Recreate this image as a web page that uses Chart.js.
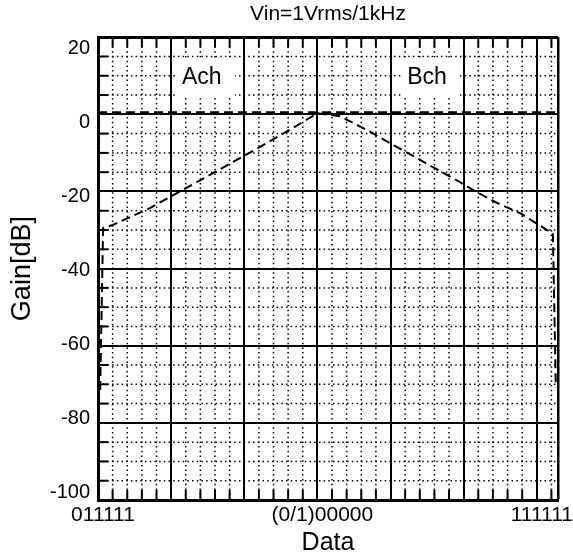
<!DOCTYPE html>
<html>
<head>
<meta charset="utf-8">
<script src="https://cdn.jsdelivr.net/npm/chart.js@4"></script>
<style>
  html, body { margin: 0; padding: 0; background: #fff; }
  #wrap { width: 573px; height: 558px; position: relative; }
</style>
</head>
<body>
<div id="wrap"><canvas id="gainChart"></canvas></div>
<script>
// --- data ---
const achX = [0.03, 0.07, 0.2, 0.71, 1.35, 2.21, 2.66, 3.0];
const achY = [-71.5, -29.5, -28.7, -24.3, -17.6, -8.5, -3.6, 0.3];
const bchX = [3.0, 3.31, 3.68, 4.09, 4.95, 5.18, 5.49, 5.77, 6.14, 6.22, 6.26];
const bchY = [0.3, -0.5, -4.1, -8.5, -17.6, -20.2, -23.3, -25.6, -30, -30.8, -70.8];
const refX = [0, 6.29];
const refY = [0.5, 0.5];

const xMajor = [0, 1, 2, 3, 4, 5, 6];
const xTickVals = [0, 3, 6];
const xTickText = ['011111', '(0/1)00000', '111111'];
const yMajor = [20, 0, -20, -40, -60, -80, -100];

const chLabels = ['Ach', 'Bch'];
const chLabelX = [1.42, 4.5];
const chLabelY = [9.5, 9.5];

const X_MAX = 6.29;
const FONT = '"Liberation Sans", Arial, sans-serif';

Chart.defaults.font.family = FONT;
Chart.defaults.color = '#000';

const toPoints = (xs, ys) => xs.map((x, i) => ({ x, y: ys[i] }));

// dotted minor grid, inner tick marks and the channel labels
const gridExtras = {
  id: 'gridExtras',
  beforeDatasetsDraw(chart) {
    const { ctx, chartArea: a, scales: { x, y } } = chart;
    const seg = (x1, y1, x2, y2) => { ctx.beginPath(); ctx.moveTo(x1, y1); ctx.lineTo(x2, y2); ctx.stroke(); };
    ctx.save();
    ctx.strokeStyle = '#000';

    ctx.lineWidth = 1.5;
    ctx.setLineDash([1.5, 3.2]);
    for (let i = 1; i <= 31; i++) {
      if (i % 5 === 0) continue;
      const px = x.getPixelForValue(i * 0.2);
      seg(px, a.top, px, a.bottom);
    }
    for (let v = -95; v < 20; v += 5) {
      if (v % 20 === 0) continue;
      const py = y.getPixelForValue(v);
      seg(a.left, py, a.right, py);
    }

    ctx.setLineDash([]);
    ctx.lineWidth = 2;
    for (let i = 1; i <= 31; i++) {
      if (i % 5 === 0) continue;
      const px = x.getPixelForValue(i * 0.2);
      seg(px, a.bottom, px, a.bottom - 10);
      seg(px, a.top, px, a.top + 10);
    }
    for (let v = -95; v < 20; v += 5) {
      if (v % 20 === 0) continue;
      const py = y.getPixelForValue(v);
      seg(a.left, py, a.left + 10, py);
    }

    ctx.font = '23px ' + FONT;
    ctx.textAlign = 'center';
    ctx.textBaseline = 'middle';
    chLabels.forEach((t, i) => {
      const px = x.getPixelForValue(chLabelX[i]);
      const py = y.getPixelForValue(chLabelY[i]);
      ctx.fillStyle = '#fff';
      ctx.fillRect(px - 25, py - 20, 58, 40);
      ctx.fillStyle = '#000';
      ctx.fillText(t, px, py);
    });
    ctx.restore();
  }
};

const lineStyle = {
  borderColor: '#000',
  borderWidth: 2,
  borderDash: [9, 5],
  pointRadius: 0,
  fill: false,
  tension: 0
};

new Chart(document.getElementById('gainChart'), {
  type: 'line',
  plugins: [gridExtras],
  data: {
    datasets: [
      { label: 'Ach', data: toPoints(achX, achY), ...lineStyle },
      { label: 'Bch', data: toPoints(bchX, bchY), ...lineStyle },
      { label: 'ref', data: toPoints(refX, refY), ...lineStyle, borderWidth: 2.5 }
    ]
  },
  options: {
    responsive: true,
    maintainAspectRatio: false,
    animation: false,
    layout: { padding: { left: 0, right: 15, top: 0, bottom: 0 } },
    plugins: {
      legend: { display: false },
      tooltip: { enabled: false },
      title: {
        display: true,
        text: 'Vin=1Vrms/1kHz',
        fullSize: false,
        color: '#000',
        font: { size: 21, weight: 'normal' },
        padding: { top: 2, bottom: 10 }
      }
    },
    scales: {
      x: {
        type: 'linear',
        min: 0,
        max: X_MAX,
        afterBuildTicks: s => { s.ticks = [...xMajor, X_MAX].map(v => ({ value: v })); },
        afterFit: s => { s.height = 58; },
        ticks: {
          autoSkip: false,
          maxRotation: 0,
          padding: 3,
          labelOffset: 5,
          font: { size: 21 },
          callback: v => {
            const k = xTickVals.indexOf(v);
            return k >= 0 ? xTickText[k] : '';
          }
        },
        grid: {
          color: '#000',
          lineWidth: c => (c.tick && c.tick.value === X_MAX ? 2.5 : 2),
          drawTicks: false
        },
        border: { color: '#000', width: 3 },
        title: { display: true, text: 'Data', font: { size: 25 }, padding: { top: 0, bottom: 0 } }
      },
      y: {
        type: 'linear',
        position: 'left',
        weight: 0,
        min: -100,
        max: 20,
        afterBuildTicks: s => { s.ticks = yMajor.map(v => ({ value: v })); },
        afterFit: s => { s.width = 0; },
        ticks: { display: false },
        grid: {
          color: '#000',
          lineWidth: c => (c.tick && c.tick.value === 20 ? 3 : 2),
          drawTicks: false
        },
        border: { color: '#000', width: 3 }
      },
      // label axis: the reference spaces its tick labels a little tighter than its grid
      yLab: {
        type: 'linear',
        position: 'left',
        weight: 1,
        min: -102.16,
        max: 22.97,
        afterBuildTicks: s => { s.ticks = yMajor.map(v => ({ value: v })); },
        afterFit: s => { s.width = 98; },
        ticks: { autoSkip: false, padding: 8, font: { size: 20 } },
        grid: { display: false, drawTicks: false },
        border: { display: false },
        title: { display: true, text: 'Gain[dB]', font: { size: 27 }, padding: { top: 6, bottom: 0 } }
      }
    }
  }
});
</script>
</body>
</html>
